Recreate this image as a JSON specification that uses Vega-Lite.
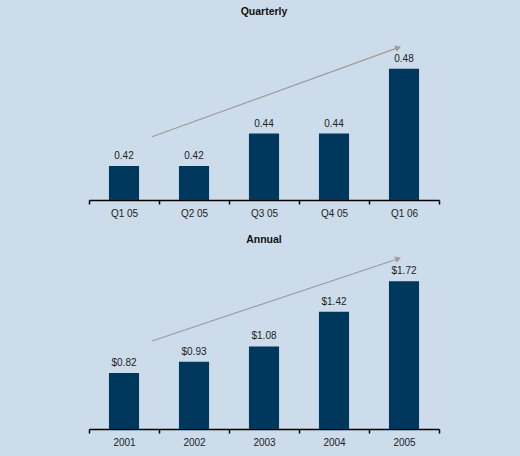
{
  "$schema": "https://vega.github.io/schema/vega-lite/v6.json",
  "background": "#cddcea",
  "padding": {"left": 88, "top": 6, "right": 82, "bottom": 11},
  "spacing": 16,
  "config": {
    "view": {"stroke": null},
    "font": "Liberation Sans",
    "title": {"font": "Liberation Sans", "fontSize": 10.5, "fontWeight": "bold", "color": "#111111"},
    "axisX": {
      "domainColor": "#000000", "domainWidth": 1.5, "tickColor": "#000000", "tickWidth": 1.5,
      "tickSize": 4, "tickBand": "extent", "labelAngle": 0, "labelFontSize": 10,
      "labelColor": "#222222", "labelFont": "Liberation Sans", "labelPadding": 4, "title": null, "grid": false
    }
  },
  "vconcat": [
    {
      "width": 350, "height": 160,
      "title": {"text": "Quarterly", "offset": 23},
      "resolve": {"scale": {"x": "independent"}},
      "layer": [
        {
          "data": {"values": [
            {"period": "Q1 05", "value": 0.42},
            {"period": "Q2 05", "value": 0.42},
            {"period": "Q3 05", "value": 0.44},
            {"period": "Q4 05", "value": 0.44},
            {"period": "Q1 06", "value": 0.48}
          ]},
          "encoding": {
            "x": {"field": "period", "type": "nominal", "sort": null, "scale": {"paddingInner": 0, "paddingOuter": 0}},
            "y": {"field": "value", "type": "quantitative", "scale": {"domain": [0.399, 0.4977], "zero": false}, "axis": null}
          },
          "layer": [
            {"mark": {"type": "bar", "width": {"band": 0.43}, "color": "#00375c"}, "encoding": {"y2": {"datum": 0.399}}},
            {"mark": {"type": "text", "baseline": "bottom", "dy": -5, "fontSize": 10, "color": "#222222"}, "encoding": {"text": {"field": "value", "type": "quantitative", "format": ".2f"}}}
          ]
        },
        {
          "data": {"values": [{"x": 0.9, "y": 0.438, "x2": 4.417, "y2": 0.493}]},
          "layer": [
            {"mark": {"type": "rule", "color": "#a09a98", "strokeWidth": 1.2},
             "encoding": {
               "x": {"field": "x", "type": "quantitative", "scale": {"domain": [0, 5]}, "axis": null},
               "x2": {"field": "x2"},
               "y": {"field": "y", "type": "quantitative", "scale": {"domain": [0.399, 0.4977], "zero": false}, "axis": null},
               "y2": {"field": "y2"}
             }},
            {"mark": {"type": "point", "shape": "triangle-up", "angle": 70, "filled": true, "opacity": 1, "color": "#a09a98", "size": 45},
             "encoding": {
               "x": {"field": "x2", "type": "quantitative", "scale": {"domain": [0, 5]}, "axis": null},
               "y": {"field": "y2", "type": "quantitative", "scale": {"domain": [0.399, 0.4977], "zero": false}, "axis": null}
             }}
          ]
        }
      ]
    },
    {
      "width": 350, "height": 177,
      "title": {"text": "Annual", "offset": 7},
      "resolve": {"scale": {"x": "independent"}},
      "layer": [
        {
          "data": {"values": [
            {"year": "2001", "value": 0.82},
            {"year": "2002", "value": 0.93},
            {"year": "2003", "value": 1.08},
            {"year": "2004", "value": 1.42},
            {"year": "2005", "value": 1.72}
          ]},
          "encoding": {
            "x": {"field": "year", "type": "nominal", "sort": null, "scale": {"paddingInner": 0, "paddingOuter": 0}},
            "y": {"field": "value", "type": "quantitative", "scale": {"domain": [0.27, 2.007], "zero": false}, "axis": null}
          },
          "layer": [
            {"mark": {"type": "bar", "width": {"band": 0.43}, "color": "#00375c"}, "encoding": {"y2": {"datum": 0.27}}},
            {"mark": {"type": "text", "baseline": "bottom", "dy": -5, "fontSize": 10, "color": "#222222"}, "encoding": {"text": {"field": "value", "type": "quantitative", "format": "$.2f"}}}
          ]
        },
        {
          "data": {"values": [{"x": 0.9, "y": 1.134, "x2": 4.417, "y2": 1.941}]},
          "layer": [
            {"mark": {"type": "rule", "color": "#a09a98", "strokeWidth": 1.2},
             "encoding": {
               "x": {"field": "x", "type": "quantitative", "scale": {"domain": [0, 5]}, "axis": null},
               "x2": {"field": "x2"},
               "y": {"field": "y", "type": "quantitative", "scale": {"domain": [0.27, 2.007], "zero": false}, "axis": null},
               "y2": {"field": "y2"}
             }},
            {"mark": {"type": "point", "shape": "triangle-up", "angle": 71, "filled": true, "opacity": 1, "color": "#a09a98", "size": 45},
             "encoding": {
               "x": {"field": "x2", "type": "quantitative", "scale": {"domain": [0, 5]}, "axis": null},
               "y": {"field": "y2", "type": "quantitative", "scale": {"domain": [0.27, 2.007], "zero": false}, "axis": null}
             }}
          ]
        }
      ]
    }
  ]
}
